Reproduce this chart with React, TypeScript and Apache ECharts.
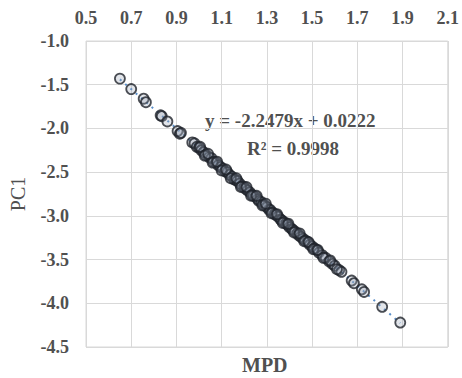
import React, { useEffect, useRef } from "react";
import * as echarts from "echarts";

const xTickMin = 0.5;
const xTickMax = 2.1;
const yTickMin = -4.5;
const yTickMax = -1.0;

const mpd: number[] = [
  0.65, 0.70, 0.755, 0.765, 0.83, 0.835, 0.86, 0.905, 0.915, 0.92,
  0.97, 0.98, 0.99, 1.00, 1.01, 1.02, 1.03, 1.045, 1.055, 1.065,
  1.075, 1.085, 1.095, 1.105, 1.115, 1.125, 1.135, 1.145, 1.155, 1.16,
  1.17, 1.18, 1.19, 1.20, 1.205, 1.215, 1.225, 1.235, 1.24, 1.25,
  1.26, 1.265, 1.275, 1.285, 1.29, 1.30, 1.31, 1.315, 1.325, 1.335,
  1.34, 1.35, 1.36, 1.365, 1.375, 1.385, 1.39, 1.40, 1.41, 1.415,
  1.425, 1.435, 1.44, 1.45, 1.46, 1.47, 1.48, 1.49, 1.50, 1.51,
  1.52, 1.53, 1.545, 1.56, 1.575, 1.59, 1.60, 1.62, 1.63, 1.675,
  1.685, 1.72, 1.73, 1.81, 1.89,
  1.005, 1.025, 1.04, 1.06, 1.08, 1.10, 1.12, 1.14, 1.165, 1.185,
  1.21, 1.23, 1.255, 1.28, 1.295, 1.32, 1.345, 1.37, 1.395, 1.42,
  1.445, 1.465, 1.485, 1.505, 1.525, 1.55, 1.58, 1.61,
];

const pc1: number[] = [
  -1.43, -1.55, -1.66, -1.70, -1.85, -1.86, -1.92, -2.03, -2.06, -2.05,
  -2.16, -2.17, -2.21, -2.22, -2.25, -2.27, -2.30, -2.33, -2.34, -2.38,
  -2.39, -2.42, -2.44, -2.46, -2.49, -2.50, -2.53, -2.55, -2.58, -2.59,
  -2.60, -2.63, -2.66, -2.67, -2.69, -2.71, -2.73, -2.76, -2.77, -2.78,
  -2.81, -2.83, -2.84, -2.87, -2.88, -2.90, -2.93, -2.93, -2.96, -2.98,
  -2.99, -3.01, -3.04, -3.05, -3.07, -3.09, -3.10, -3.13, -3.15, -3.16,
  -3.18, -3.20, -3.22, -3.24, -3.26, -3.28, -3.30, -3.33, -3.35, -3.37,
  -3.39, -3.42, -3.45, -3.48, -3.52, -3.55, -3.57, -3.62, -3.64, -3.74,
  -3.77, -3.84, -3.87, -4.04, -4.22,
  -2.21, -2.31, -2.29, -2.39, -2.38, -2.48, -2.47, -2.57, -2.57, -2.67,
  -2.67, -2.77, -2.77, -2.88, -2.86, -2.97, -2.98, -3.08, -3.09, -3.19,
  -3.20, -3.29, -3.30, -3.38, -3.39, -3.48, -3.51, -3.61,
];

// Trendline: y = -2.2479x + 0.0222, drawn over the data range
const trendX: number[] = [0.65, 1.89];
const trendY: number[] = [-1.4389, -4.2263];

const eqText = "y = -2.2479x + 0.0222";
const r2Text = "R² = 0.9998";

const FONT = "'Liberation Serif', 'Times New Roman', serif";
const GRAY = "#505050";

export default function App() {
  const ref = useRef<HTMLDivElement>(null);
  useEffect(() => {
    if (!ref.current) return;
    const chart = echarts.init(ref.current, undefined, { renderer: "svg" });
    const points = mpd.map((x, i) => [x, pc1[i]]);
    const trend = trendX.map((x, i) => [x, trendY[i]]);
    chart.setOption({
      animation: false,
      backgroundColor: "#ffffff",
      grid: {
        left: 86,
        right: 14,
        top: 41,
        bottom: 31,
        show: true,
        borderColor: "#d9d9d9",
        borderWidth: 1,
      },
      xAxis: {
        type: "value",
        position: "top",
        min: xTickMin,
        max: xTickMax,
        interval: 0.2,
        axisLine: { show: false },
        axisTick: { show: false },
        splitLine: { lineStyle: { color: "#d9d9d9", width: 1 } },
        axisLabel: {
          margin: 14,
          color: GRAY,
          fontFamily: FONT,
          fontWeight: "bold",
          fontSize: 18,
          formatter: (v: number) => v.toFixed(1),
        },
      },
      yAxis: {
        type: "value",
        min: yTickMin,
        max: yTickMax,
        interval: 0.5,
        name: "PC1",
        nameLocation: "middle",
        nameRotate: 90,
        nameGap: 58,
        nameTextStyle: {
          color: GRAY,
          fontFamily: FONT,
          fontWeight: "normal",
          fontSize: 20,
        },
        axisLine: { show: false },
        axisTick: { show: false },
        splitLine: { lineStyle: { color: "#d9d9d9", width: 1 } },
        axisLabel: {
          margin: 17,
          color: GRAY,
          fontFamily: FONT,
          fontWeight: "bold",
          fontSize: 18,
          formatter: (v: number) => v.toFixed(1),
        },
      },
      graphic: [
        {
          type: "text",
          left: 242,
          top: 355,
          style: {
            text: "MPD",
            fill: GRAY,
            font: `bold 20px ${FONT}`,
          },
        },
        {
          type: "text",
          left: 205,
          top: 111,
          style: {
            text: eqText,
            fill: GRAY,
            font: `bold 19px ${FONT}`,
          },
        },
        {
          type: "text",
          left: 247,
          top: 139,
          style: {
            text: r2Text,
            fill: GRAY,
            font: `bold 19px ${FONT}`,
          },
        },
      ],
      series: [
        {
          type: "line",
          data: trend,
          symbol: "none",
          lineStyle: { color: "#5b8fc9", width: 2, type: [2, 5] },
          z: 1,
        },
        {
          type: "scatter",
          data: points,
          symbol: "circle",
          symbolSize: 10,
          itemStyle: {
            color: "rgba(150,160,180,0.35)",
            borderColor: "#1f232b",
            borderWidth: 1.8,
          },
          z: 2,
        },
      ],
    });
    return () => chart.dispose();
  }, []);
  return (
    <div
      ref={ref}
      style={{ position: "fixed", left: 0, top: 0, width: 462, height: 378 }}
    />
  );
}
